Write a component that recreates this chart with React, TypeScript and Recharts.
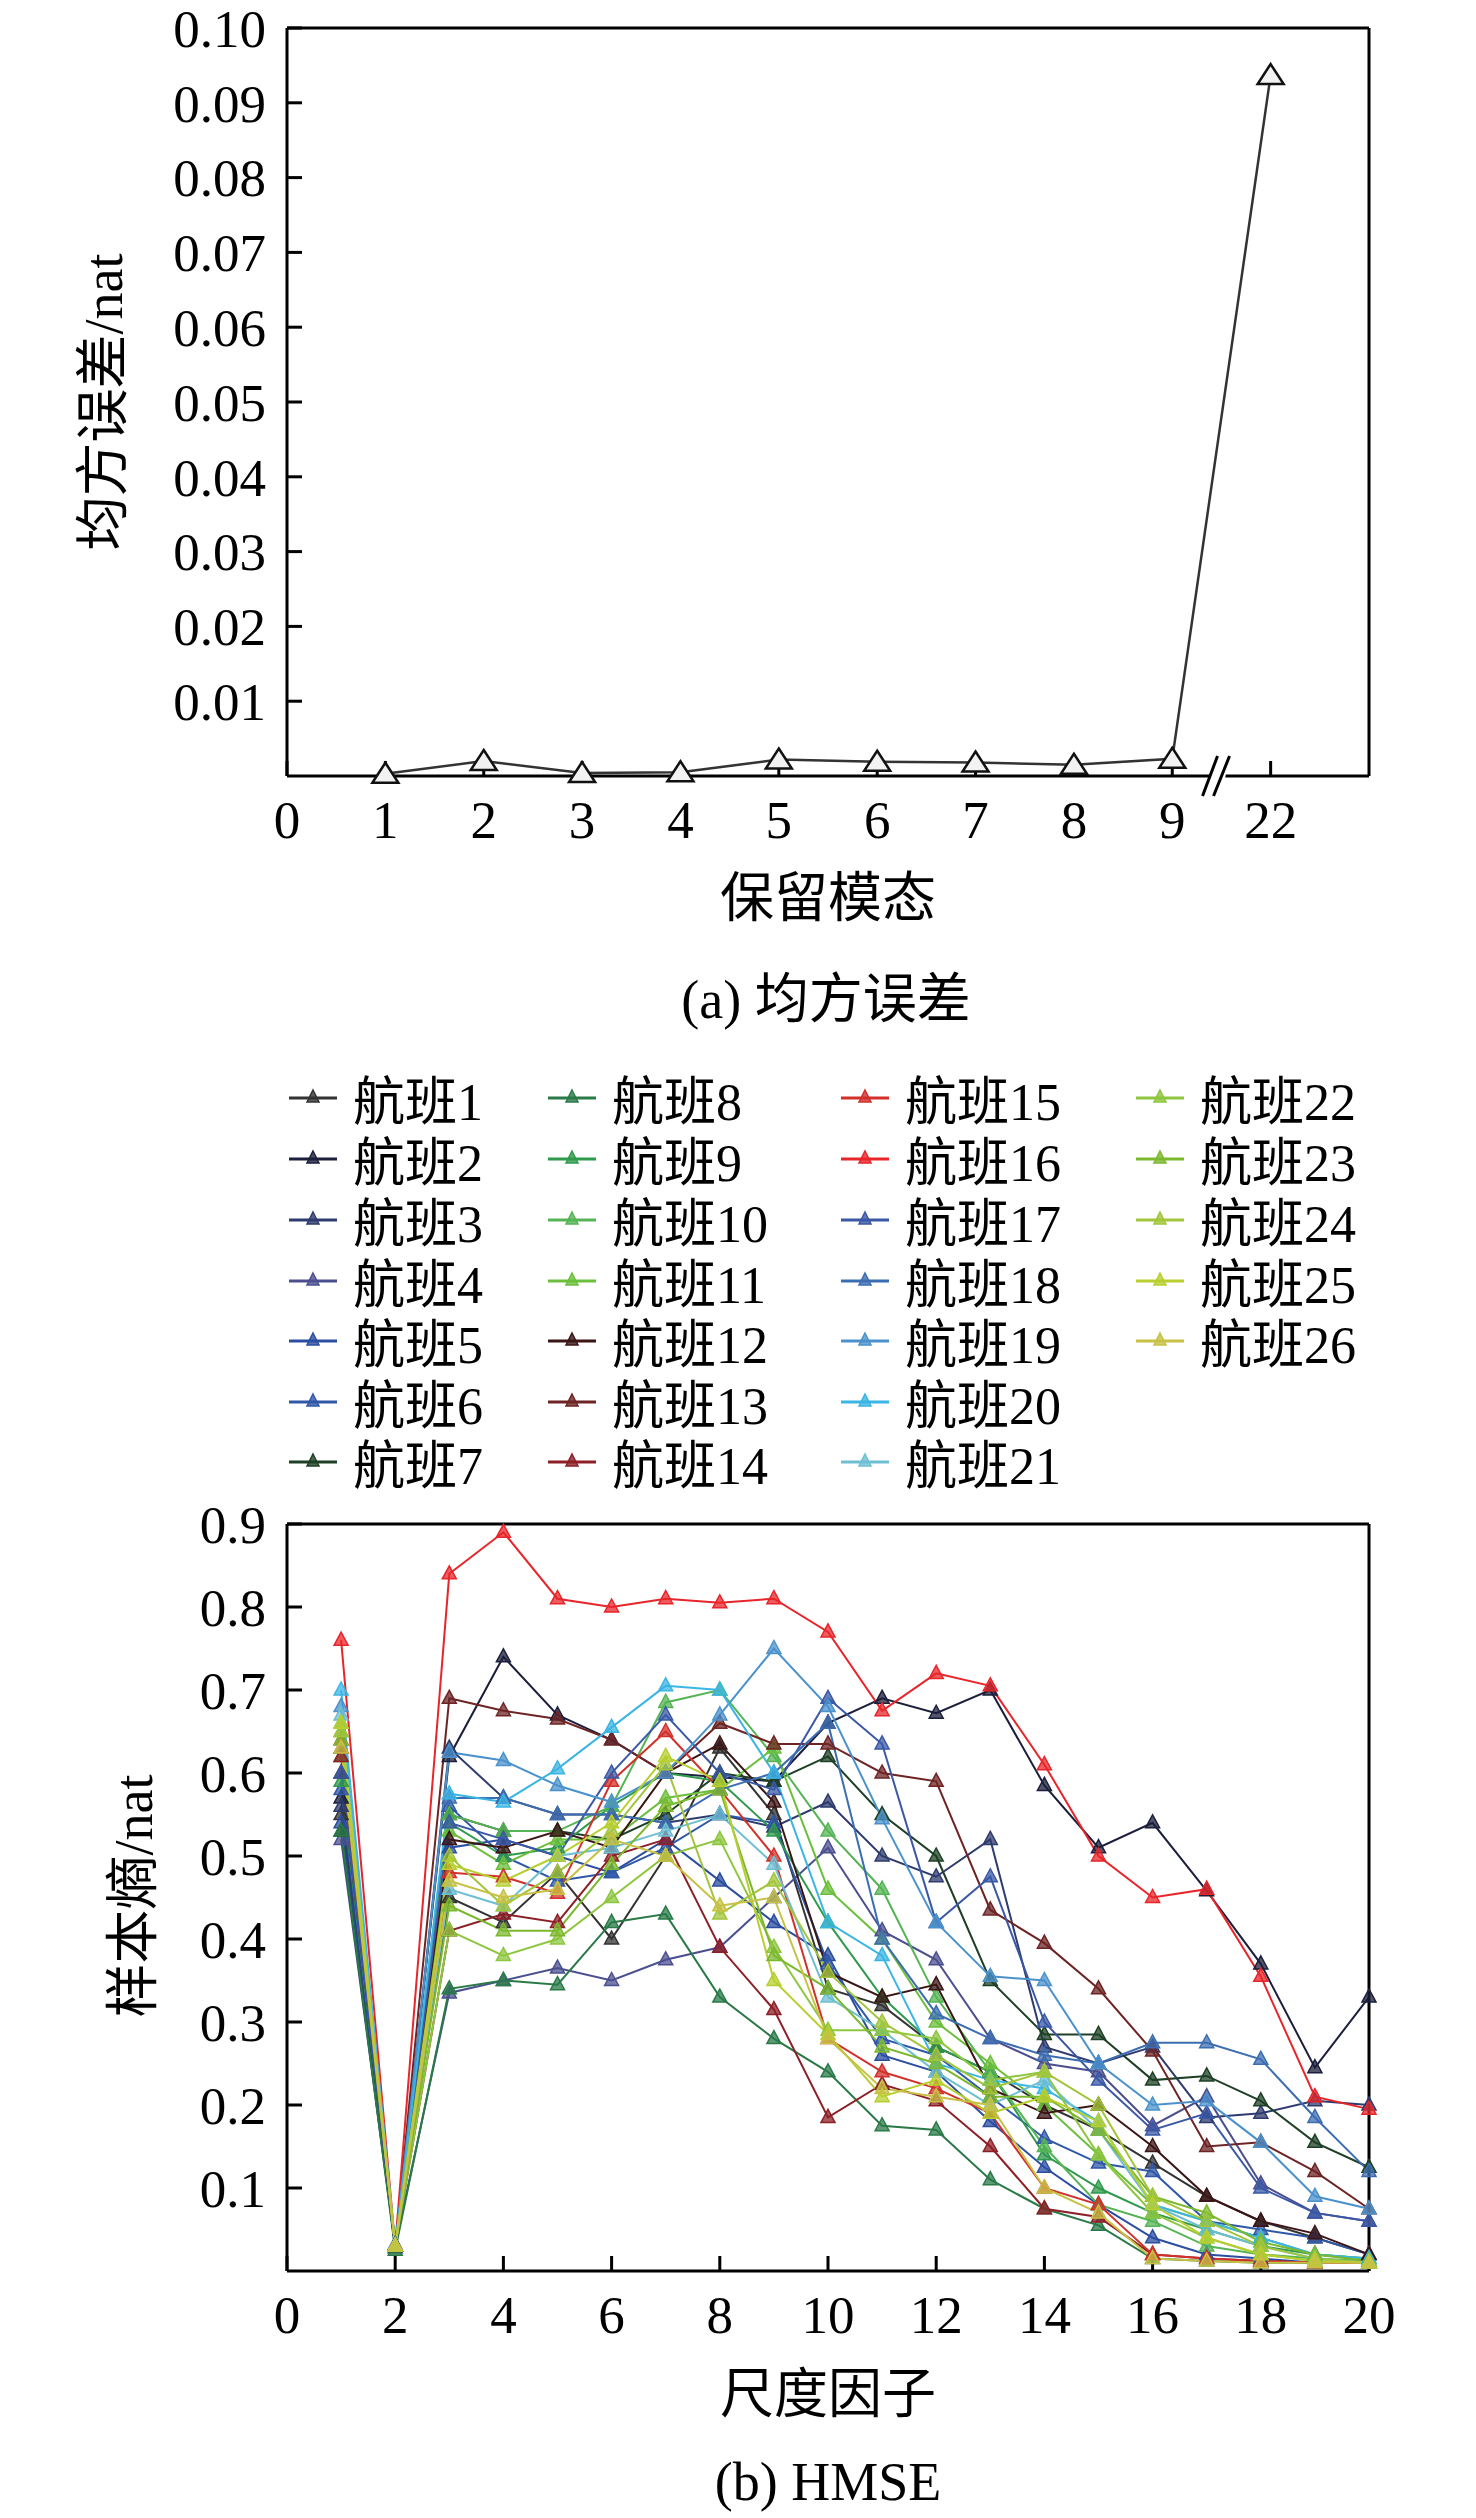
import React from "react";
import { LineChart, Line, XAxis, YAxis, ReferenceDot } from "recharts";

// (a) 均方误差
const modeLabels = ["1", "2", "3", "4", "5", "6", "7", "8", "9", "22"];
const mseValues = [0.0003, 0.002, 0.0004, 0.0005, 0.0022, 0.0019, 0.0018, 0.0015, 0.0023, 0.0937];
const modeTicks = [0, 1, 2, 3, 4, 5, 6, 7, 8, 9, 10];
const modeTickLabels = ["0", "1", "2", "3", "4", "5", "6", "7", "8", "9", "22"];
const mseTicks = [0.01, 0.02, 0.03, 0.04, 0.05, 0.06, 0.07, 0.08, 0.09, 0.1];

// (b) HMSE
const scales = [1, 2, 3, 4, 5, 6, 7, 8, 9, 10, 11, 12, 13, 14, 15, 16, 17, 18, 19, 20];
const scaleTicks = [0, 2, 4, 6, 8, 10, 12, 14, 16, 18, 20];
const entropyTicks = [0.1, 0.2, 0.3, 0.4, 0.5, 0.6, 0.7, 0.8, 0.9];

const flightNames = Array.from({ length: 26 }, (_, i) => "航班" + (i + 1));
const flightColors = [
  "#333333", "#1b1f3b", "#2e3b6e", "#4b4f8f", "#2b4ea0", "#3058a8", "#1e4026",
  "#2a7a48", "#2f9a4c", "#55b455", "#6cbf3c", "#3b1515", "#6e2424", "#8d1f27",
  "#d1302b", "#e8252a", "#3a58a6", "#3c6db1", "#4b92cc", "#3bb5e3", "#6fbfd3",
  "#8dc63f", "#7cb82e", "#a2c53b", "#b8cf2f", "#c7c146",
];
const flight1 = [0.55, 0.03, 0.45, 0.42, 0.48, 0.4, 0.5, 0.63, 0.55, 0.34, 0.32, 0.27, 0.24, 0.2, 0.17, 0.13, 0.09, 0.06, 0.04, 0.02];
const flight2 = [0.57, 0.03, 0.62, 0.74, 0.67, 0.64, 0.6, 0.595, 0.59, 0.66, 0.69, 0.672, 0.7, 0.585, 0.51, 0.54, 0.458, 0.37, 0.245, 0.33];
const flight3 = [0.56, 0.028, 0.63, 0.57, 0.55, 0.55, 0.54, 0.55, 0.535, 0.565, 0.5, 0.475, 0.52, 0.27, 0.25, 0.27, 0.185, 0.19, 0.205, 0.2];
const flight4 = [0.52, 0.03, 0.335, 0.35, 0.365, 0.35, 0.375, 0.39, 0.45, 0.51, 0.41, 0.375, 0.28, 0.25, 0.24, 0.175, 0.21, 0.105, 0.07, 0.06];
const flight5 = [0.54, 0.032, 0.51, 0.52, 0.5, 0.48, 0.52, 0.47, 0.42, 0.38, 0.26, 0.24, 0.18, 0.125, 0.08, 0.04, 0.02, 0.015, 0.01, 0.01];
const flight6 = [0.58, 0.03, 0.56, 0.5, 0.47, 0.48, 0.51, 0.55, 0.54, 0.37, 0.28, 0.26, 0.21, 0.16, 0.13, 0.12, 0.06, 0.05, 0.04, 0.02];
const flight7 = [0.53, 0.03, 0.55, 0.53, 0.53, 0.52, 0.55, 0.6, 0.59, 0.62, 0.55, 0.5, 0.35, 0.285, 0.285, 0.23, 0.235, 0.205, 0.155, 0.125];
const flight8 = [0.53, 0.025, 0.34, 0.35, 0.345, 0.42, 0.43, 0.33, 0.28, 0.24, 0.175, 0.17, 0.11, 0.075, 0.055, 0.015, 0.012, 0.01, 0.01, 0.01];
const flight9 = [0.59, 0.03, 0.54, 0.5, 0.51, 0.56, 0.6, 0.59, 0.53, 0.42, 0.33, 0.27, 0.24, 0.14, 0.1, 0.07, 0.05, 0.03, 0.02, 0.015];
const flight10 = [0.62, 0.03, 0.55, 0.53, 0.53, 0.56, 0.685, 0.7, 0.62, 0.53, 0.46, 0.33, 0.24, 0.15, 0.08, 0.06, 0.03, 0.02, 0.015, 0.012];
const flight11 = [0.65, 0.03, 0.53, 0.49, 0.52, 0.52, 0.57, 0.58, 0.63, 0.46, 0.4, 0.3, 0.25, 0.2, 0.14, 0.08, 0.06, 0.04, 0.02, 0.015];
const flight12 = [0.6, 0.03, 0.52, 0.51, 0.53, 0.51, 0.6, 0.635, 0.565, 0.36, 0.33, 0.345, 0.22, 0.19, 0.2, 0.15, 0.09, 0.06, 0.045, 0.02];
const flight13 = [0.63, 0.03, 0.69, 0.675, 0.665, 0.64, 0.6, 0.66, 0.635, 0.635, 0.6, 0.59, 0.435, 0.395, 0.34, 0.265, 0.15, 0.155, 0.12, 0.075];
const flight14 = [0.62, 0.03, 0.41, 0.43, 0.42, 0.5, 0.52, 0.39, 0.315, 0.185, 0.225, 0.205, 0.15, 0.075, 0.065, 0.02, 0.015, 0.012, 0.01, 0.01];
const flight15 = [0.64, 0.03, 0.48, 0.475, 0.455, 0.59, 0.65, 0.58, 0.5, 0.28, 0.24, 0.22, 0.19, 0.1, 0.08, 0.02, 0.015, 0.012, 0.01, 0.01];
const flight16 = [0.76, 0.03, 0.84, 0.89, 0.81, 0.8, 0.81, 0.805, 0.81, 0.77, 0.675, 0.72, 0.705, 0.61, 0.5, 0.45, 0.46, 0.355, 0.21, 0.195];
const flight17 = [0.6, 0.03, 0.54, 0.52, 0.5, 0.6, 0.67, 0.6, 0.58, 0.69, 0.635, 0.42, 0.475, 0.3, 0.23, 0.17, 0.19, 0.1, 0.07, 0.06];
const flight18 = [0.66, 0.03, 0.57, 0.57, 0.55, 0.55, 0.54, 0.58, 0.6, 0.66, 0.4, 0.31, 0.28, 0.26, 0.25, 0.275, 0.275, 0.255, 0.185, 0.12];
const flight19 = [0.68, 0.03, 0.625, 0.615, 0.585, 0.565, 0.6, 0.67, 0.75, 0.68, 0.545, 0.42, 0.355, 0.35, 0.25, 0.2, 0.205, 0.155, 0.09, 0.075];
const flight20 = [0.7, 0.03, 0.575, 0.565, 0.605, 0.655, 0.705, 0.7, 0.6, 0.42, 0.38, 0.25, 0.23, 0.22, 0.18, 0.08, 0.06, 0.04, 0.02, 0.015];
const flight21 = [0.67, 0.03, 0.46, 0.44, 0.5, 0.51, 0.53, 0.55, 0.49, 0.33, 0.29, 0.24, 0.2, 0.23, 0.17, 0.08, 0.05, 0.03, 0.015, 0.01];
const flight22 = [0.66, 0.03, 0.41, 0.38, 0.4, 0.45, 0.5, 0.52, 0.39, 0.29, 0.29, 0.28, 0.23, 0.24, 0.14, 0.07, 0.04, 0.02, 0.012, 0.01];
const flight23 = [0.64, 0.03, 0.44, 0.41, 0.41, 0.49, 0.56, 0.58, 0.38, 0.34, 0.27, 0.25, 0.21, 0.21, 0.17, 0.09, 0.07, 0.035, 0.02, 0.012];
const flight24 = [0.65, 0.03, 0.5, 0.44, 0.48, 0.53, 0.61, 0.43, 0.47, 0.36, 0.3, 0.26, 0.22, 0.24, 0.2, 0.09, 0.06, 0.03, 0.015, 0.01];
const flight25 = [0.66, 0.03, 0.49, 0.47, 0.5, 0.54, 0.62, 0.59, 0.35, 0.285, 0.21, 0.23, 0.19, 0.21, 0.18, 0.08, 0.04, 0.02, 0.012, 0.01];
const flight26 = [0.63, 0.03, 0.47, 0.45, 0.46, 0.52, 0.5, 0.44, 0.45, 0.28, 0.22, 0.21, 0.2, 0.1, 0.07, 0.015, 0.012, 0.01, 0.01, 0.01];
const flightValues = [
  flight1, flight2, flight3, flight4, flight5, flight6, flight7, flight8, flight9, flight10,
  flight11, flight12, flight13, flight14, flight15, flight16, flight17, flight18, flight19, flight20,
  flight21, flight22, flight23, flight24, flight25, flight26,
];

const FONT = "'Liberation Serif', 'Noto Sans CJK SC', serif";
const tickStyle = { fontSize: 53, fill: "#000", fontFamily: FONT };

const mseData = modeLabels.map((label, i) => ({ pos: i + 1, label, mse: mseValues[i] }));
const hmseData = scales.map((s, i) => {
  const row: Record<string, number> = { scale: s };
  flightValues.forEach((vals, k) => (row["f" + (k + 1)] = vals[i]));
  return row;
});

const OpenTri = (props: any) => {
  const { cx, cy } = props;
  if (cx == null || cy == null) return null;
  return (
    <path
      d={`M${cx},${cy - 11} L${cx + 13},${cy + 9} L${cx - 13},${cy + 9} Z`}
      fill="#f2f2f2"
      stroke="#111"
      strokeWidth={2.5}
    />
  );
};

const SmallTri = (props: any) => {
  const { cx, cy, c } = props;
  if (cx == null || cy == null) return null;
  return (
    <path
      d={`M${cx},${cy - 8} L${cx + 7},${cy + 5} L${cx - 7},${cy + 5} Z`}
      fill={c}
      fillOpacity={0.75}
      stroke={c}
      strokeWidth={1.5}
    />
  );
};

// the "//" axis break between 9 and 22
const BreakMark = (props: any) => {
  const { cx, cy } = props;
  if (cx == null || cy == null) return null;
  return (
    <g>
      <polygon points={`${cx - 9},${cy + 6} ${cx + 8},${cy + 6} ${cx + 10},${cy - 6} ${cx - 5},${cy - 6}`} fill="#fff" />
      <line x1={cx - 14} y1={cy + 20} x2={cx + 1} y2={cy - 20} stroke="#000" strokeWidth={3} />
      <line x1={cx - 3} y1={cy + 20} x2={cx + 13} y2={cy - 20} stroke="#000" strokeWidth={3} />
    </g>
  );
};

const axisStroke = { stroke: "#000", strokeWidth: 3 };

const Caption = ({ x, y, text, rotate }: { x: number; y: number; text: string; rotate?: boolean }) => (
  <div
    style={{
      position: "absolute",
      left: x,
      top: y,
      transform: `translate(-50%, -50%)${rotate ? " rotate(-90deg)" : ""}`,
      fontSize: 54,
      lineHeight: "60px",
      whiteSpace: "nowrap",
      fontFamily: FONT,
      color: "#000",
    }}
  >
    {text}
  </div>
);

const LegendGrid = () => {
  const colX = [289, 548, 841, 1136];
  const rowY = [1097, 1158, 1219, 1280, 1340, 1401, 1461];
  return (
    <>
      {flightNames.map((name, i) => {
        const col = Math.floor(i / 7);
        const row = i % 7;
        return (
          <div
            key={name}
            style={{
              position: "absolute",
              left: colX[col],
              top: rowY[row] - 30,
              height: 60,
              display: "flex",
              alignItems: "center",
              fontFamily: FONT,
              fontSize: 52,
              whiteSpace: "nowrap",
            }}
          >
            <svg width={48} height={20} style={{ marginRight: 16 }}>
              <line x1={0} y1={11} x2={48} y2={11} stroke={flightColors[i]} strokeWidth={3} />
              <path d="M24,3 L30,15 L18,15 Z" fill={flightColors[i]} fillOpacity={0.8} stroke={flightColors[i]} strokeWidth={1.5} />
            </svg>
            <span>{name}</span>
          </div>
        );
      })}
    </>
  );
};

const App = () => (
  <div style={{ position: "absolute", left: 0, top: 0, width: 1476, height: 2518, background: "#fff", fontFamily: FONT }}>
    <div style={{ position: "absolute", left: 0, top: 0 }}>
      <LineChart width={1476} height={900} data={mseData} margin={{ top: 27, right: 106, bottom: 64, left: 187 }}>
        <XAxis
          xAxisId="b"
          dataKey="pos"
          type="number"
          domain={[0, 11]}
          ticks={modeTicks}
          tickFormatter={(v: number) => modeTickLabels[v] ?? ""}
          height={60}
          tickSize={-15}
          tickMargin={39}
          tick={tickStyle}
          axisLine={axisStroke}
          tickLine={axisStroke}
          interval={0}
        />
        <XAxis xAxisId="t" orientation="top" type="number" domain={[0, 11]} ticks={modeTicks.slice(1)} height={1} tickSize={-15} tick={false} axisLine={axisStroke} tickLine={axisStroke} />
        <YAxis
          yAxisId="l"
          type="number"
          domain={[0, 0.1]}
          ticks={mseTicks}
          tickFormatter={(v: number) => v.toFixed(2)}
          width={100}
          tickSize={-15}
          tickMargin={36}
          tick={tickStyle}
          axisLine={axisStroke}
          tickLine={axisStroke}
          interval={0}
        />
        <YAxis yAxisId="r" orientation="right" type="number" domain={[0, 0.1]} ticks={mseTicks} width={1} tickSize={-15} tick={false} axisLine={axisStroke} tickLine={axisStroke} />
        <Line
          xAxisId="b"
          yAxisId="l"
          type="linear"
          dataKey="mse"
          stroke="#333"
          strokeWidth={2.5}
          dot={<OpenTri />}
          isAnimationActive={false}
        />
        <ReferenceDot xAxisId="b" yAxisId="l" x={9.45} y={0} r={0} ifOverflow="visible" shape={(p: any) => <BreakMark {...p} />} />
      </LineChart>
    </div>
    <Caption x={828} y={899} text="保留模态" />
    <Caption x={104} y={402} text="均方误差/nat" rotate />
    <Caption x={826} y={1000} text="(a) 均方误差" />

    <LegendGrid />

    <div style={{ position: "absolute", left: 0, top: 1480 }}>
      <LineChart width={1476} height={900} data={hmseData} margin={{ top: 43, right: 106, bottom: 49, left: 187 }}>
        <XAxis
          xAxisId="b"
          dataKey="scale"
          type="number"
          domain={[0, 20]}
          ticks={scaleTicks}
          height={60}
          tickSize={-15}
          tickMargin={39}
          tick={tickStyle}
          axisLine={axisStroke}
          tickLine={axisStroke}
          interval={0}
        />
        <XAxis xAxisId="t" orientation="top" type="number" domain={[0, 20]} ticks={scaleTicks.slice(1)} height={1} tickSize={-15} tick={false} axisLine={axisStroke} tickLine={axisStroke} />
        <YAxis
          yAxisId="l"
          type="number"
          domain={[0, 0.9]}
          ticks={entropyTicks}
          tickFormatter={(v: number) => v.toFixed(1)}
          width={100}
          tickSize={-15}
          tickMargin={36}
          tick={tickStyle}
          axisLine={axisStroke}
          tickLine={axisStroke}
          interval={0}
        />
        <YAxis yAxisId="r" orientation="right" type="number" domain={[0, 0.9]} ticks={entropyTicks} width={1} tickSize={-15} tick={false} axisLine={axisStroke} tickLine={axisStroke} />
        {flightNames.map((name, k) => (
          <Line
            key={name}
            xAxisId="b"
            yAxisId="l"
            type="linear"
            dataKey={"f" + (k + 1)}
            name={name}
            stroke={flightColors[k]}
            strokeWidth={2}
            dot={<SmallTri c={flightColors[k]} />}
            isAnimationActive={false}
          />
        ))}
      </LineChart>
    </div>
    <Caption x={828} y={2395} text="尺度因子" />
    <Caption x={134} y={1896} text="样本熵/nat" rotate />
    <Caption x={828} y={2482} text="(b) HMSE" />
  </div>
);

export default App;
